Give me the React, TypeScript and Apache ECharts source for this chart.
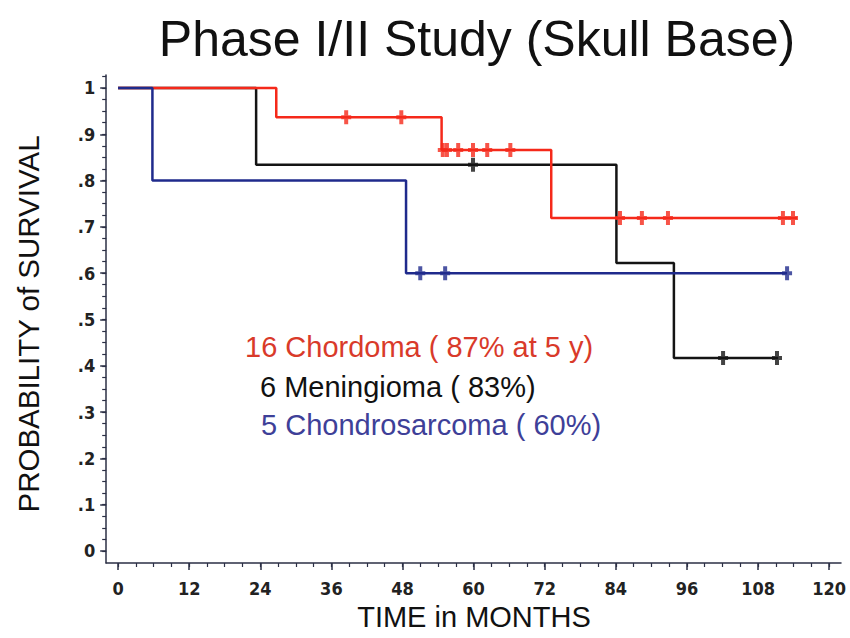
import React, { useEffect, useRef } from "react";
import * as echarts from "echarts";

// ---------------- data ----------------
const chordomaTimes = [0, 26.7, 54.6, 73.1, 114.6];
const chordomaSurv = [1, 0.937, 0.866, 0.719, 0.719];
const chordomaCensored = [38.5, 47.8, 54.8, 55.5, 57.4, 59.9, 62.3, 66.2, 84.7, 88.4, 92.8, 112.2, 113.9];

const meningiomaTimes = [0, 23.3, 84.1, 93.8, 111.4];
const meningiomaSurv = [1, 0.834, 0.622, 0.417, 0.417];
const meningiomaCensored = [59.9, 102.1, 111.2];

const chondroTimes = [0, 5.8, 48.6, 112.9];
const chondroSurv = [1, 0.8, 0.6, 0.6];
const chondroCensored = [51.0, 55.2, 112.9];

const xTickValues = [0, 12, 24, 36, 48, 60, 72, 84, 96, 108, 120];
const xMinorTickValues = [
  0, 3, 6, 9, 12, 15, 18, 21, 24, 27, 30, 33, 36, 39, 42, 45, 48, 51, 54, 57, 60,
  63, 66, 69, 72, 75, 78, 81, 84, 87, 90, 93, 96, 99, 102, 105, 108, 111, 114, 117, 120,
];
const yTickValues = [0, 0.1, 0.2, 0.3, 0.4, 0.5, 0.6, 0.7, 0.8, 0.9, 1];
const yTickLabels = ["0", ".1", ".2", ".3", ".4", ".5", ".6", ".7", ".8", ".9", "1"];
const yMinorTickValues = [
  0, 0.025, 0.05, 0.075, 0.1, 0.125, 0.15, 0.175, 0.2, 0.225, 0.25, 0.275, 0.3,
  0.325, 0.35, 0.375, 0.4, 0.425, 0.45, 0.475, 0.5, 0.525, 0.55, 0.575, 0.6,
  0.625, 0.65, 0.675, 0.7, 0.725, 0.75, 0.775, 0.8, 0.825, 0.85, 0.875, 0.9,
  0.925, 0.95, 0.975, 1, 1.025,
];

const titleText = "Phase I/II Study (Skull Base)";
const xAxisTitle = "TIME in MONTHS";
const yAxisTitle = "PROBABILITY of SURVIVAL";
const legendLines = ["16 Chordoma ( 87% at 5 y)", "6 Meningioma ( 83%)", "5 Chondrosarcoma ( 60%)"];

// ---------------- styles ----------------
const RED = "#f5291a";
const BLACK = "#141414";
const BLUE = "#1f2a8c";
const RED_TEXT = "#d93a2a";
const BLUE_TEXT = "#3e4098";
const SANS = "'Liberation Sans', Arial, Helvetica, sans-serif";
const NARROW = "'Liberation Sans Narrow', 'Arial Narrow', 'DejaVu Sans Condensed', sans-serif";
const CENSOR = "path://M3,0h4v14h-4z M0,5h10v4h-10z";

function survAt(times: number[], surv: number[], t: number) {
  let v = surv[0];
  for (let i = 0; i < times.length; i++) if (times[i] <= t) v = surv[i];
  return v;
}

function stepSeries(name: string, times: number[], surv: number[], color: string, z: number) {
  return {
    name,
    type: "line",
    step: "end",
    data: times.map((t, i) => [t, surv[i]]),
    showSymbol: false,
    symbol: "none",
    lineStyle: { color, width: 2.5 },
    z,
    xAxisIndex: 0,
    yAxisIndex: 0,
  };
}

function censorSeries(name: string, times: number[], surv: number[], cens: number[], color: string, z: number) {
  return {
    name: name + " censored",
    type: "scatter",
    data: cens.map((t) => [t, survAt(times, surv, t)]),
    symbol: CENSOR,
    symbolSize: [10, 14],
    itemStyle: { color },
    z,
    xAxisIndex: 0,
    yAxisIndex: 0,
  };
}

export default function App() {
  const ref = useRef<HTMLDivElement>(null);
  useEffect(() => {
    if (!ref.current) return;
    const chart = echarts.init(ref.current, undefined, { renderer: "svg" });
    const axisColor = "#2b2f45";
    chart.setOption({
      animation: false,
      backgroundColor: "#ffffff",
      grid: { left: 106.2, right: 9, top: 75, bottom: 75, containLabel: false },
      xAxis: [
        {
          type: "value",
          min: -2,
          max: 122,
          position: "bottom",
          splitLine: { show: false },
          axisLine: { show: true, onZero: false, lineStyle: { color: axisColor, width: 1.5 } },
          axisTick: { show: true, customValues: xTickValues, length: 7, lineStyle: { color: axisColor, width: 1.5 } },
          axisLabel: {
            show: true,
            customValues: xTickValues,
            margin: 16,
            fontSize: 18,
            fontFamily: NARROW,
            fontWeight: "bold",
            color: "#222",
          },
        },
        {
          type: "value",
          min: -2,
          max: 122,
          position: "bottom",
          splitLine: { show: false },
          axisLine: { show: false, onZero: false },
          axisTick: { show: true, customValues: xMinorTickValues, length: 4, lineStyle: { color: axisColor, width: 1.2 } },
          axisLabel: { show: false },
        },
      ],
      yAxis: [
        {
          type: "value",
          min: -0.026,
          max: 1.028,
          position: "left",
          splitLine: { show: false },
          axisLine: { show: true, onZero: false, lineStyle: { color: axisColor, width: 1.5 } },
          axisTick: { show: true, customValues: yTickValues, length: 6, lineStyle: { color: axisColor, width: 1.5 } },
          axisLabel: {
            show: true,
            customValues: yTickValues,
            margin: 11,
            fontSize: 18,
            fontFamily: NARROW,
            fontWeight: "bold",
            color: "#222",
            formatter: (v: number) => {
              const idx = yTickValues.findIndex((t) => Math.abs(t - v) < 1e-6);
              return idx >= 0 ? yTickLabels[idx] : "";
            },
          },
        },
        {
          type: "value",
          min: -0.026,
          max: 1.028,
          position: "left",
          splitLine: { show: false },
          axisLine: { show: false, onZero: false },
          axisTick: { show: true, customValues: yMinorTickValues, length: 4, lineStyle: { color: axisColor, width: 1.2 } },
          axisLabel: { show: false },
        },
      ],
      series: [
        stepSeries("Meningioma", meningiomaTimes, meningiomaSurv, BLACK, 2),
        stepSeries("Chordoma", chordomaTimes, chordomaSurv, RED, 3),
        stepSeries("Chondrosarcoma", chondroTimes, chondroSurv, BLUE, 4),
        censorSeries("Meningioma", meningiomaTimes, meningiomaSurv, meningiomaCensored, BLACK, 5),
        censorSeries("Chordoma", chordomaTimes, chordomaSurv, chordomaCensored, RED, 6),
        censorSeries("Chondrosarcoma", chondroTimes, chondroSurv, chondroCensored, BLUE, 7),
      ],
      graphic: [
        {
          type: "text",
          x: 477,
          y: 39,
          style: { text: titleText, fontSize: 50, fontFamily: SANS, fill: "#111", textAlign: "center", textVerticalAlign: "middle" },
        },
        {
          type: "text",
          x: 474,
          y: 617,
          style: { text: xAxisTitle, fontSize: 29, fontFamily: SANS, fill: "#111", textAlign: "center", textVerticalAlign: "middle" },
        },
        {
          type: "text",
          x: 28,
          y: 324,
          rotation: Math.PI / 2,
          style: { text: yAxisTitle, fontSize: 29.5, fontFamily: SANS, fill: "#111", textAlign: "center", textVerticalAlign: "middle" },
        },
        {
          type: "text",
          x: 245,
          y: 347,
          style: { text: legendLines[0], fontSize: 29, fontFamily: SANS, fill: RED_TEXT, textAlign: "left", textVerticalAlign: "middle" },
        },
        {
          type: "text",
          x: 260,
          y: 386.5,
          style: { text: legendLines[1], fontSize: 29, fontFamily: SANS, fill: "#111", textAlign: "left", textVerticalAlign: "middle" },
        },
        {
          type: "text",
          x: 261,
          y: 424.5,
          style: { text: legendLines[2], fontSize: 29, fontFamily: SANS, fill: BLUE_TEXT, textAlign: "left", textVerticalAlign: "middle" },
        },
      ],
    });
    return () => chart.dispose();
  }, []);
  return <div ref={ref} style={{ position: "fixed", left: 0, top: 0, width: 850, height: 638 }} />;
}
